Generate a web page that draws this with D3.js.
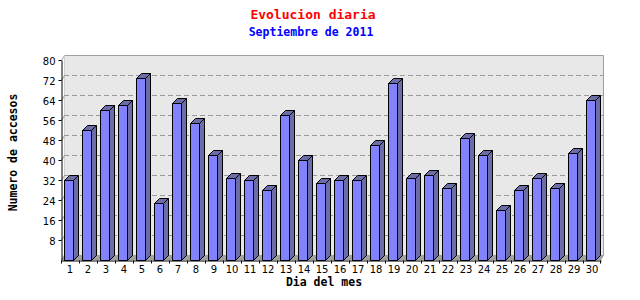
<!DOCTYPE html>
<html>
<head>
<meta charset="utf-8">
<script src="https://cdn.jsdelivr.net/npm/d3@7"></script>
<style>
  body { margin: 0; background: #fff; }
  svg { display: block; }
</style>
</head>
<body>
<script>
var days = ["1", "2", "3", "4", "5", "6", "7", "8", "9", "10", "11", "12", "13", "14", "15",
            "16", "17", "18", "19", "20", "21", "22", "23", "24", "25", "26", "27", "28", "29", "30"];
var visits = [32, 52, 60, 62, 73, 23, 63, 55, 42, 33, 32, 28, 58, 40, 31,
              32, 32, 46, 71, 33, 34, 29, 49, 42, 20, 28, 33, 29, 43, 64];
var yTicks = [8, 16, 24, 32, 40, 48, 56, 64, 72, 80];

var width = 640, height = 300;
var depthX = 3, depthY = 5;      // back wall offset
var barDepth = 5;                // 3d bar depth
var frontColor = "#8282ff", sideColor = "#6c6ca8";

var x = d3.scaleBand().domain(days).range([61, 601]);
var y = d3.scaleLinear().domain([0, 80]).range([260, 60]);

var svg = d3.select("body").append("svg")
    .attr("width", width)
    .attr("height", height);

svg.append("rect").attr("width", width).attr("height", height).attr("fill", "#fff");

var x0 = x.range()[0], x1 = x.range()[1], yb = y(0), yt = y(80);

// back wall
svg.append("rect")
    .attr("x", x0 + depthX + 0.5).attr("y", yt - depthY + 0.5)
    .attr("width", x1 - x0 - 0.5).attr("height", yb - yt)
    .attr("fill", "#e8e8e8");
svg.append("path")
    .attr("d", "M" + (x0 + 0.5) + "," + (yt + 0.5) + "L" + (x0 + depthX + 0.5) + "," + (yt - depthY + 0.5) +
        "H" + (x1 + depthX - 0.5) + "V" + (yb - depthY) + "L" + (x1 - 0.5) + "," + (yb - 0.5))
    .attr("fill", "none").attr("stroke", "#a0a0a0");
svg.append("line")
    .attr("x1", x0 + depthX + 0.5).attr("x2", x0 + depthX + 0.5)
    .attr("y1", yt - depthY + 0.5).attr("y2", yb - depthY)
    .attr("stroke", "#d0d0d0");

// floor
svg.append("path")
    .attr("d", "M" + x0 + "," + yb + "L" + (x0 + depthX) + "," + (yb - depthY) +
        "H" + (x1 + depthX) + "L" + x1 + "," + yb + "Z")
    .attr("fill", "#a0a0a0");

// grid lines on the back wall + diagonal on the side wall
var grid = svg.append("g");
grid.selectAll(".g").data(yTicks.slice(0, -1)).enter().append("line")
    .attr("x1", x0 + depthX).attr("x2", x1 + depthX)
    .attr("y1", function (d) { return Math.round(y(d)) - depthY + 0.5; })
    .attr("y2", function (d) { return Math.round(y(d)) - depthY + 0.5; })
    .attr("stroke", "#999").attr("stroke-dasharray", "5,3");
grid.selectAll(".s").data(yTicks.slice(0, -1)).enter().append("line")
    .attr("x1", x0 + 0.5).attr("x2", x0 + depthX + 0.5)
    .attr("y1", function (d) { return y(d) + 0.5; })
    .attr("y2", function (d) { return y(d) - depthY + 0.5; })
    .attr("stroke", "#999");

// bars
var bars = svg.append("g").selectAll("g").data(days).enter().append("g");

function geom(d, i) {
    var l = x(d) + 3.5, r = l + 9, t = Math.round(y(visits[i])) + 0.5;
    return { l: l, r: r, t: t, b: yb + 0.5 };
}

bars.append("path")
    .attr("d", function (d, i) {
        var g = geom(d, i);
        return "M" + g.r + "," + g.t + "L" + (g.r + barDepth) + "," + (g.t - barDepth) +
            "V" + (g.b - barDepth) + "L" + g.r + "," + g.b + "Z";
    })
    .attr("fill", sideColor).attr("stroke", "#000");
bars.append("path")
    .attr("d", function (d, i) {
        var g = geom(d, i);
        return "M" + g.l + "," + g.t + "L" + (g.l + barDepth) + "," + (g.t - barDepth) +
            "H" + (g.r + barDepth) + "L" + g.r + "," + g.t + "Z";
    })
    .attr("fill", sideColor).attr("stroke", "#000");
bars.append("path")
    .attr("d", function (d, i) {
        var g = geom(d, i);
        return "M" + g.l + "," + g.t + "H" + g.r + "V" + g.b + "H" + g.l + "Z";
    })
    .attr("fill", frontColor).attr("stroke", "#000");

// y axis
var yAxis = svg.append("g")
    .attr("transform", "translate(" + (x0 + 0.5) + ",0)")
    .call(d3.axisLeft(y).tickValues(yTicks).tickSize(3).tickSizeOuter(0).tickPadding(3));
yAxis.selectAll("text")
    .attr("font-family", "DejaVu Sans").attr("font-size", "10px").attr("fill", "#000")
    .attr("dy", "0.45em");
yAxis.selectAll("line, path").attr("stroke", "#000");

// x axis
var xAxis = svg.append("g")
    .attr("transform", "translate(0," + (yb + 0.5) + ")")
    .call(d3.axisBottom(x).tickSize(0).tickSizeOuter(0).tickPadding(5));
xAxis.selectAll("text")
    .attr("font-family", "DejaVu Sans").attr("font-size", "10px").attr("fill", "#000");
xAxis.select(".domain").attr("stroke", "#000");
xAxis.selectAll(".edge").data(days.concat(["end"])).enter().append("line")
    .attr("class", "edge")
    .attr("x1", function (d) { return d === "end" ? x1 - 0.5 : x(d) + 0.5; })
    .attr("x2", function (d) { return d === "end" ? x1 - 0.5 : x(d) + 0.5; })
    .attr("y1", 0).attr("y2", 3)
    .attr("stroke", "#000");

// titles
var mono = "DejaVu Sans Mono";
svg.append("text").attr("x", 313).attr("y", 19)
    .attr("text-anchor", "middle").attr("font-family", mono).attr("font-weight", "bold")
    .attr("font-size", "13px").attr("fill", "#ff0000").text("Evolucion diaria");
svg.append("text").attr("x", 311).attr("y", 36)
    .attr("text-anchor", "middle").attr("font-family", mono).attr("font-weight", "bold")
    .attr("font-size", "11.5px").attr("fill", "#0000ff").text("Septiembre de 2011");
svg.append("text").attr("x", 324).attr("y", 286)
    .attr("text-anchor", "middle").attr("font-family", mono).attr("font-weight", "bold")
    .attr("font-size", "11.5px").attr("fill", "#000").text("Dia del mes");
svg.append("text")
    .attr("transform", "translate(17,152.5) rotate(-90)")
    .attr("text-anchor", "middle").attr("font-family", mono).attr("font-weight", "bold")
    .attr("font-size", "11.5px").attr("fill", "#000").text("Numero de accesos");
</script>
</body>
</html>
